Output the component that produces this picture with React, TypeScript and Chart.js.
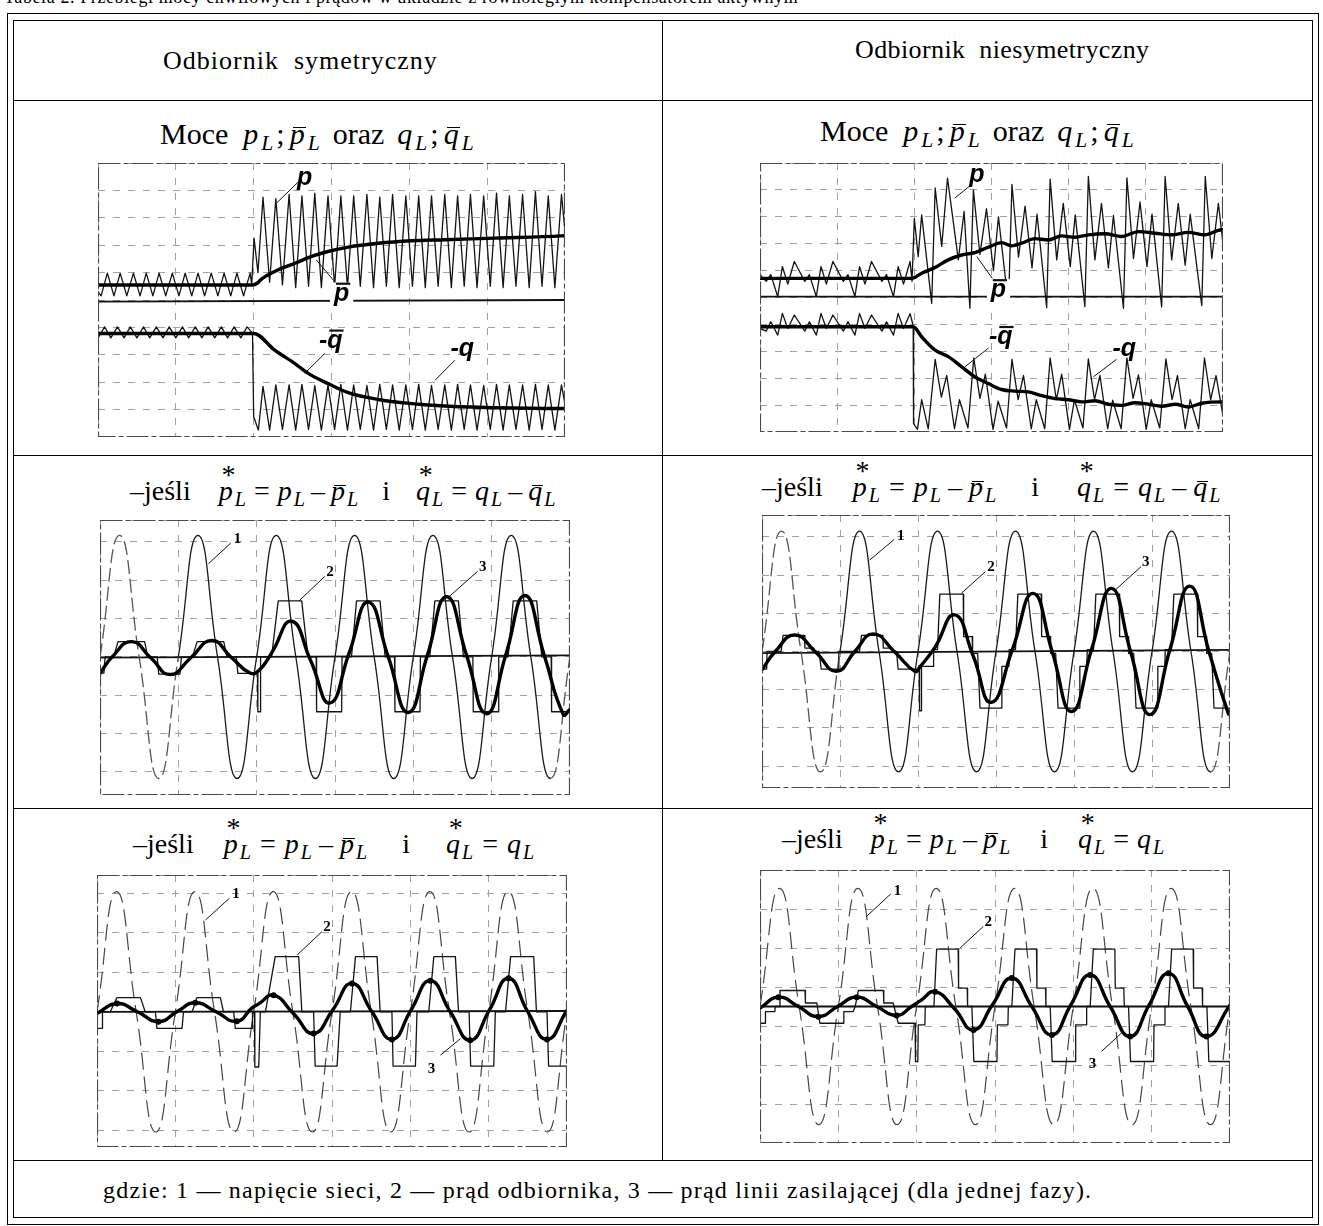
import React, { useEffect, useRef } from "react";
import { Chart, registerables } from "chart.js";

Chart.register(...registerables);

type Pt = [number, number];

// ---------------- shared axis values ----------------
const TIME_MIN_MS = 0;
const TIME_MAX_MS = 120;
const TIME_GRID_MS = 20;
const VOLT_STEP_MS = 5;

// ---------------- chart 1: symmetric load, powers ----------------
const P1_INST: Pt[] = [
  [0, 5.3], [0.8, 5.15], [2.4, 5.98], [4.1, 5.15], [5.7, 5.98], [7.4, 5.15], [9.1, 5.98], [10.8, 5.15],
  [12.4, 5.98], [14.1, 5.15], [15.7, 5.98], [17.4, 5.15], [19.1, 5.98], [20.8, 5.15], [22.4, 5.98], [24.1, 5.15],
  [25.7, 5.98], [27.4, 5.15], [29.1, 5.98], [30.8, 5.15], [32.4, 5.98], [34.1, 5.15], [35.7, 5.98], [37.4, 5.15],
  [39.1, 5.98], [39.5, 5.55], [40.1, 7.26], [41.1, 6.0], [42.4, 8.75], [44.1, 5.65], [45.7, 8.7], [47.4, 5.55],
  [49.1, 8.85], [50.8, 5.45], [52.4, 8.8], [54.1, 5.5], [55.7, 8.9], [57.4, 5.45], [59.1, 8.8], [60.8, 5.5],
  [62.4, 8.8], [64.1, 5.45], [65.7, 8.8], [67.4, 5.5], [69.1, 8.85], [70.8, 5.45], [72.4, 8.75], [74.1, 5.5],
  [75.7, 8.85], [77.4, 5.45], [79.1, 8.8], [80.8, 5.5], [82.4, 8.8], [84.1, 5.45], [85.7, 8.8], [87.4, 5.5],
  [89.1, 8.85], [90.8, 5.45], [92.4, 8.8], [94.1, 5.5], [95.7, 8.85], [97.4, 5.45], [99.1, 8.8], [100.8, 5.5],
  [102.4, 8.9], [104.1, 5.45], [105.7, 8.8], [107.4, 5.5], [109.1, 8.85], [110.8, 5.45], [112.4, 8.95], [114.1, 5.5],
  [115.7, 8.8], [117.4, 5.45], [119.1, 8.85], [120, 7.5],
];
const P1_MEAN: Pt[] = [
  [0, 5.55], [39.6, 5.55], [41.0, 5.62], [42.0, 5.76], [45.4, 6.04], [50.6, 6.34], [54.9, 6.59], [59.1, 6.77],
  [64.3, 6.93], [72, 7.07], [80.6, 7.16], [89.1, 7.2], [102, 7.26], [119.1, 7.34], [120, 7.35],
];
const Q1_INST: Pt[] = [
  [0, 3.62], [1.7, 4.02], [3.3, 3.62], [5.0, 4.02], [6.7, 3.62], [8.3, 4.02], [10.0, 3.62], [11.7, 4.02],
  [13.3, 3.62], [15.0, 4.02], [16.7, 3.62], [18.3, 4.02], [20.0, 3.62], [21.7, 4.02], [23.3, 3.62], [25.0, 4.02],
  [26.7, 3.62], [28.3, 4.02], [30.0, 3.62], [31.7, 4.02], [33.3, 3.62], [35.0, 4.02], [36.7, 3.62], [38.3, 4.02],
  [39.7, 3.8], [40.0, 0.75], [41.2, 0.25], [42.4, 1.85], [44.1, 0.25], [45.7, 1.9], [47.4, 0.28], [49.1, 1.9],
  [50.8, 0.25], [52.4, 1.92], [54.1, 0.28], [55.7, 1.88], [57.4, 0.25], [59.1, 1.9], [60.8, 0.28], [62.4, 1.92],
  [64.1, 0.25], [65.7, 1.9], [67.4, 0.28], [69.1, 1.88], [70.8, 0.25], [72.4, 1.92], [74.1, 0.28], [75.7, 1.9],
  [77.4, 0.25], [79.1, 1.9], [80.8, 0.28], [82.4, 1.92], [84.1, 0.25], [85.7, 1.88], [87.4, 0.28], [89.1, 1.9],
  [90.8, 0.25], [92.4, 1.92], [94.1, 0.28], [95.7, 1.9], [97.4, 0.25], [99.1, 1.88], [100.8, 0.28], [102.4, 1.92],
  [104.1, 0.25], [105.7, 1.9], [107.4, 0.28], [109.1, 1.9], [110.8, 0.25], [112.4, 1.92], [114.1, 0.28], [115.7, 1.9],
  [117.4, 0.25], [119.1, 1.9], [120, 1.2],
];
const Q1_MEAN: Pt[] = [
  [0, 3.78], [40.0, 3.78], [45.4, 3.17], [50.6, 2.68], [54.0, 2.32], [59.1, 1.95], [64.3, 1.62], [72, 1.37],
  [80.6, 1.22], [89.1, 1.13], [102, 1.07], [119.1, 1.04], [120, 1.04],
];
const AXIS_1: Pt[] = [[0, 4.94], [120, 5.0]];

// ---------------- chart 2: unbalanced load, powers ----------------
const P2_INST: Pt[] = [
  [0, 5.85], [1.6, 5.6], [2.8, 5.85], [4.6, 5.03], [5.8, 6.15], [7.2, 5.5], [8.9, 6.34], [11.6, 5.6], [12.8, 5.85],
  [14.6, 5.03], [15.8, 6.15], [17.2, 5.5], [18.9, 6.34], [21.6, 5.6], [22.8, 5.85], [24.6, 5.03], [25.8, 6.15],
  [27.2, 5.5], [28.9, 6.34], [31.6, 5.6], [32.8, 5.85], [34.6, 5.03], [35.8, 6.15], [37.2, 5.5], [38.9, 6.34],
  [39.4, 5.6], [40.0, 7.95], [41.0, 6.52], [41.9, 8.07], [44.5, 4.78], [45.4, 9.07], [47.1, 6.9], [48.6, 9.44],
  [51.4, 6.4], [52.9, 8.2], [54.4, 4.6], [55.3, 9.0], [57.0, 6.6], [58.7, 8.3], [60.5, 6.0], [61.8, 8.0],
  [64.4, 4.7], [65.3, 9.2], [67.0, 6.5], [68.7, 8.4], [70.5, 6.1], [71.8, 8.1], [74.3, 4.62], [75.2, 9.4],
  [76.9, 6.4], [78.6, 8.5], [80.4, 6.15], [81.7, 8.07], [84.2, 4.66], [85.1, 9.5], [86.8, 6.4], [88.5, 8.5],
  [90.3, 6.1], [91.6, 8.05], [94.2, 4.6], [95.1, 9.45], [96.8, 6.45], [98.5, 8.55], [100.3, 6.15], [101.6, 8.1],
  [104.1, 4.65], [105.0, 9.5], [106.7, 6.4], [108.4, 8.5], [110.2, 6.2], [111.5, 8.1], [114.5, 4.7], [115.4, 9.5],
  [117.1, 6.45], [118.8, 8.5], [120, 7.0],
];
const P2_MEAN: Pt[] = [
  [0, 5.71], [39.3, 5.71], [41.9, 5.9], [45.4, 6.12], [48.8, 6.4], [52.3, 6.58], [55.7, 6.67], [59.2, 6.87],
  [62.6, 7.04], [65.2, 6.92], [67.8, 7.02], [71.3, 7.19], [74.7, 7.14], [78.2, 7.29], [81.6, 7.24], [85.1, 7.33],
  [89.4, 7.37], [93.7, 7.27], [98.1, 7.45], [102.4, 7.39], [106.7, 7.33], [111, 7.42], [115.3, 7.33], [119.7, 7.52],
  [120, 7.52],
];
const Q2_INST: Pt[] = [
  [0, 3.85], [1.6, 3.75], [2.8, 4.1], [4.6, 3.6], [5.8, 4.41], [7.2, 3.85], [8.9, 4.35], [11.6, 3.75], [12.8, 4.1],
  [14.6, 3.6], [15.8, 4.41], [17.2, 3.85], [18.9, 4.35], [21.6, 3.75], [22.8, 4.1], [24.6, 3.6], [25.8, 4.41],
  [27.2, 3.85], [28.9, 4.35], [31.6, 3.75], [32.8, 4.1], [34.6, 3.6], [35.8, 4.41], [37.2, 3.85], [38.9, 4.4],
  [39.7, 3.95], [39.8, 0.31], [40.8, 0.1], [41.9, 1.2], [43.6, 0.12], [45.4, 2.7], [47.0, 1.3], [48.4, 2.1],
  [50.4, 0.12], [51.7, 1.2], [53.9, 0.15], [55.4, 2.75], [57.0, 1.25], [58.4, 2.15], [60.4, 0.1], [61.7, 1.15],
  [63.9, 0.15], [65.3, 2.7], [66.9, 1.2], [68.3, 2.1], [70.3, 0.12], [71.6, 1.2], [73.8, 0.12], [75.2, 2.75],
  [76.8, 1.2], [78.2, 2.15], [80.2, 0.1], [81.5, 1.2], [83.7, 0.15], [85.1, 2.72], [86.7, 1.2], [88.1, 2.1],
  [90.1, 0.12], [91.4, 1.18], [93.6, 0.12], [95.1, 2.75], [96.7, 1.25], [98.1, 2.12], [100.1, 0.1], [101.4, 1.2],
  [103.6, 0.15], [105.2, 2.72], [106.8, 1.2], [108.2, 2.1], [110.2, 0.12], [111.5, 1.2], [113.7, 0.12], [115.2, 2.75],
  [116.8, 1.2], [118.2, 2.1], [120, 0.6],
];
const Q2_MEAN: Pt[] = [
  [0, 3.91], [39.7, 3.91], [41.9, 3.54], [45.4, 3.04], [48.8, 2.8], [52.3, 2.42], [55.7, 2.05], [59.2, 1.8],
  [62.6, 1.58], [66.1, 1.52], [69.6, 1.49], [73, 1.35], [76.5, 1.24], [79.9, 1.2], [83.4, 1.12], [86.8, 1.16],
  [90.3, 1.03], [93.7, 0.99], [97.2, 1.09], [100.7, 1.03], [104.1, 0.96], [107.6, 1.03], [111, 0.93], [114.5, 1.07],
  [119.7, 1.12], [120, 1.12],
];
const AXIS_2: Pt[] = [[0, 5.03], [120, 5.03]];

// ---------------- chart 3: symmetric, p* = p - p̄, q* = q - q̄ ----------------
const V3_SAMPLES = [0, 3.17, 0, -3.17, 0, 3.17, 0, -3.17, 0, 3.17, 0, -3.17, 0, 3.17, 0, -3.17, 0, 3.17, 0, -3.17, 0, 3.17, 0, -3.17, 0];
const I3_LINE: Pt[] = [
  [0, -0.43], [3.1, 0], [8.1, 0.4], [13.0, -0.03], [17.9, -0.46], [23.2, -0.02], [28.5, 0.43], [33.4, 0],
  [38.3, -0.42], [40.5, -0.36], [43.8, 0.1], [48.9, 0.93], [53.8, -0.1], [58.7, -1.2], [63.6, 0.1], [68.5, 1.43],
  [73.6, 0], [78.7, -1.45], [83.6, 0.05], [88.5, 1.57], [93.6, 0.04], [98.7, -1.48], [103.6, 0.05], [108.5, 1.6],
  [113.4, 0.05], [118.3, -1.5], [120, -1.37],
];
const I3_LOAD: Pt[] = [
  [0, -0.42], [1.0, -0.42], [1.3, 0], [3.5, 0], [4.6, 0.4], [11.4, 0.4], [12.2, 0], [14.6, 0], [15.0, -0.45],
  [20.4, -0.45], [20.8, 0], [23.6, 0], [24.8, 0.4], [31.6, 0.4], [32.4, 0], [34.8, 0], [35.2, -0.43], [40.2, -0.43],
  [40.3, -1.43], [40.9, -1.43], [41.0, 0], [43.8, 0], [45.5, 1.46], [51.5, 1.46], [53.1, 0], [55.2, 0],
  [55.3, -1.43], [61.7, -1.43], [61.8, 0], [64.2, 0], [65.5, 1.46], [71.5, 1.46], [72.8, 0], [75.2, 0],
  [75.3, -1.43], [81.7, -1.43], [81.8, 0], [84.2, 0], [85.5, 1.46], [91.5, 1.46], [92.8, 0], [95.2, 0],
  [95.3, -1.43], [101.7, -1.43], [101.8, 0], [104.2, 0], [105.5, 1.46], [111.5, 1.46], [112.8, 0], [115.2, 0],
  [115.3, -1.43], [120, -1.43],
];
const AXIS_3: Pt[] = [[0, -0.02], [120, 0.04]];

// ---------------- chart 4: unbalanced, p* = p - p̄, q* = q - q̄ ----------------
const V4_SAMPLES = [0, 3.15, 0, -3.15, 0, 3.15, 0, -3.15, 0, 3.15, 0, -3.15, 0, 3.15, 0, -3.15, 0, 3.15, 0, -3.15, 0, 3.15, 0, -3.15, 0];
const I4_LINE: Pt[] = [
  [0, -0.48], [3.4, 0], [8.4, 0.43], [13.8, -0.02], [19.1, -0.52], [23.8, 0], [28.5, 0.46], [33.9, 0],
  [39.2, -0.52], [40.5, -0.4], [44.3, 0.1], [49.4, 0.96], [54.1, -0.1], [58.8, -1.33], [64.2, 0.05], [69.5, 1.52],
  [74.4, 0], [79.4, -1.57], [84.5, 0.05], [89.6, 1.65], [94.5, 0], [99.5, -1.65], [104.6, 0.05], [109.7, 1.71],
  [114.6, 0], [119.6, -1.63], [120, -1.6],
];
const I4_LOAD: Pt[] = [
  [0, -0.46], [1.2, -0.46], [1.3, 0], [4.9, 0], [5.4, 0.42], [10.9, 0.42], [11.0, 0.09], [13.2, 0.09], [13.3, 0],
  [14.6, 0], [15.2, -0.46], [19.6, -0.46], [19.7, 0], [25.0, 0], [25.5, 0.42], [31.0, 0.42], [31.1, 0.09],
  [33.3, 0.09], [33.4, 0], [34.5, 0], [34.9, -0.46], [40.3, -0.46], [40.4, -1.55], [40.8, -1.55], [40.9, -0.39],
  [43.9, -0.39], [44.0, 0.05], [45.0, 0.05], [45.6, 1.5], [51.6, 1.5], [51.7, 0.39], [53.9, 0.39], [54.0, -0.05],
  [55.3, -0.05], [55.9, -1.48], [61.4, -1.48], [61.5, -0.39], [63.3, -0.39], [63.4, 0.05], [65.0, 0.05], [65.6, 1.5],
  [71.6, 1.5], [71.7, 0.39], [73.9, 0.39], [74.0, -0.05], [75.3, -0.05], [75.9, -1.48], [81.4, -1.48], [81.5, -0.39],
  [83.3, -0.39], [83.4, 0.05], [85.0, 0.05], [85.6, 1.5], [91.6, 1.5], [91.7, 0.39], [93.9, 0.39], [94.0, -0.05],
  [95.3, -0.05], [95.9, -1.48], [101.4, -1.48], [101.5, -0.39], [103.3, -0.39], [103.4, 0.05], [105.0, 0.05],
  [105.6, 1.5], [111.6, 1.5], [111.7, 0.39], [113.9, 0.39], [114.0, -0.05], [115.3, -0.05], [115.9, -1.48],
  [120, -1.48],
];
const AXIS_4: Pt[] = [[0, -0.04], [120, 0.04]];

// ---------------- chart 5: symmetric, p* = p - p̄, q* = q ----------------
const V5_SAMPLES = [0, 3.05, 0, -3.05, 0, 3.05, 0, -3.05, 0, 3.05, 0, -3.05, 0, 3.05, 0, -3.05, 0, 3.05, 0, -3.05, 0, 3.05, 0, -3.05, 0];
const I5_LINE: Pt[] = [
  [0, -0.04], [5.1, 0.21], [10.3, 0], [15.7, -0.25], [20.4, 0], [25.1, 0.23], [30.4, 0], [35.7, -0.24],
  [39.6, 0.1], [41.3, 0.2], [45.1, 0.42], [50.2, -0.05], [55.3, -0.55], [60.2, 0.05], [65.1, 0.72], [70.2, 0],
  [75.3, -0.7], [80.2, 0.05], [85.1, 0.79], [90.2, 0], [95.3, -0.72], [100.2, 0.05], [105.1, 0.85], [110.0, 0],
  [114.9, -0.7], [120, 0.04],
];
const I5_LOAD: Pt[] = [
  [0, -0.42], [1.3, -0.42], [1.4, 0], [3.4, 0], [5.1, 0.36], [11.1, 0.36], [12.3, 0], [14.9, 0], [15.3, -0.42],
  [21.7, -0.42], [22.1, 0], [24.3, 0], [25.5, 0.36], [31.5, 0.36], [32.3, 0], [34.9, 0], [35.3, -0.42],
  [39.6, -0.42], [39.7, 0], [40.2, 0], [40.3, -1.4], [41.3, -1.4], [41.7, 0], [43.0, 0], [45.5, 1.4], [51.5, 1.4],
  [52.3, 0], [55.3, 0], [55.7, -1.38], [61.3, -1.38], [62.1, 0], [64.7, 0], [66.0, 1.4], [71.5, 1.4], [72.3, 0],
  [75.3, 0], [75.6, -1.38], [81.3, -1.38], [81.7, 0], [84.7, 0], [86.0, 1.4], [91.5, 1.4], [92.3, 0], [95.0, 0],
  [95.4, -1.38], [101.3, -1.38], [101.7, 0], [104.3, 0], [105.6, 1.4], [111.5, 1.4], [112.2, 0], [114.9, 0],
  [115.3, -1.38], [120, -1.38],
];
const AXIS_5: Pt[] = [[0, 0], [120, 0.02]];

// ---------------- chart 6: unbalanced, p* = p - p̄, q* = q ----------------
const V6_SAMPLES = [0, 3.03, 0, -3.03, 0, 3.03, 0, -3.03, 0, 3.03, 0, -3.03, 0, 3.03, 0, -3.03, 0, 3.03, 0, -3.03, 0, 3.03, 0, -3.03, 0];
const I6_LINE: Pt[] = [
  [0, -0.04], [4.7, 0.24], [9.8, 0], [14.9, -0.26], [19.8, 0], [24.7, 0.24], [29.8, 0], [34.9, -0.23],
  [38.7, 0.0], [41.0, 0.15], [44.7, 0.38], [49.6, -0.05], [54.5, -0.6], [59.4, 0.05], [64.3, 0.73], [69.4, 0],
  [74.5, -0.73], [79.4, 0.05], [84.3, 0.81], [89.4, 0], [94.5, -0.77], [99.4, 0.05], [104.3, 0.85], [109.2, 0],
  [114.0, -0.77], [120, 0.04],
];
const I6_LOAD: Pt[] = [
  [0, -0.43], [1.3, -0.43], [1.4, -0.13], [3.8, -0.13], [3.9, 0], [5.0, 0], [5.1, 0.41], [11.5, 0.41],
  [11.6, 0.09], [14.5, 0.09], [15.3, -0.43], [21.3, -0.43], [21.4, -0.13], [23.8, -0.13], [24.3, 0], [25.1, 0.41],
  [31.5, 0.41], [31.6, 0.09], [34.0, 0.09], [35.3, -0.43], [39.6, -0.43], [39.7, -1.41], [40.3, -1.41],
  [40.4, -0.47], [42.1, -0.47], [42.2, 0], [44.4, 0], [45.1, 1.47], [50.6, 1.47], [50.7, 0.47], [52.9, 0.47],
  [53.0, 0], [54.1, 0], [54.6, -1.41], [60.5, -1.41], [60.6, -0.47], [63.3, -0.47], [63.4, 0], [64.3, 0],
  [65.1, 1.47], [70.6, 1.47], [70.7, 0.47], [72.9, 0.47], [73.0, 0], [74.1, 0], [74.6, -1.41], [80.5, -1.41],
  [80.6, -0.47], [83.3, -0.47], [83.4, 0], [84.3, 0], [85.1, 1.47], [90.6, 1.47], [90.7, 0.47], [92.9, 0.47],
  [93.0, 0], [94.1, 0], [94.6, -1.41], [100.5, -1.41], [100.6, -0.47], [103.3, -0.47], [103.4, 0], [104.3, 0],
  [105.1, 1.47], [110.6, 1.47], [110.7, 0.47], [112.9, 0.47], [113.0, 0], [114.1, 0], [114.6, -1.41], [120, -1.41],
];
const AXIS_6: Pt[] = [[0, 0], [120, 0]];

// ---------------- curve labels (data coordinates) ----------------
type Note = { t: number; v: number; pre?: string; text: string; bar?: boolean; knock?: boolean; from: Pt; to: Pt };
const NOTES_1: Note[] = [
  { t: 53.1, v: 9.33, text: "p", from: [51.4, 9.3], to: [45.9, 8.54] },
  { t: 62.6, v: 5.12, text: "p", bar: true, knock: true, from: [60.8, 5.67], to: [56.1, 6.46] },
  { t: 59.8, v: 3.41, pre: "-", text: "q", bar: true, from: [58.3, 3.05], to: [53.1, 2.32] },
  { t: 93.6, v: 3.11, pre: "-", text: "q", from: [91.7, 2.8], to: [86.6, 2.07] },
];
const NOTES_2: Note[] = [
  { t: 56.2, v: 9.44, text: "p", from: [54.4, 9.15], to: [50.5, 8.7] },
  { t: 61.8, v: 5.16, text: "p", bar: true, knock: true, from: [60.2, 5.71], to: [56.2, 6.52] },
  { t: 62.4, v: 3.42, pre: "-", text: "q", bar: true, from: [59.2, 3.12], to: [53.1, 2.42] },
  { t: 94.4, v: 2.98, pre: "-", text: "q", from: [92.4, 2.7], to: [86.4, 2.05] },
];
const NOTES_3: Note[] = [
  { t: 35.1, v: 3.09, text: "1", from: [33.4, 2.97], to: [27.7, 2.43] },
  { t: 58.7, v: 2.23, text: "2", from: [57.4, 2.1], to: [50.8, 1.46] },
  { t: 97.7, v: 2.37, text: "3", from: [96.4, 2.23], to: [88.9, 1.55] },
];
const NOTES_4: Note[] = [
  { t: 35.6, v: 3.04, text: "1", from: [33.9, 2.93], to: [27.6, 2.39] },
  { t: 58.7, v: 2.23, text: "2", from: [57.3, 2.09], to: [51.1, 1.52] },
  { t: 98.4, v: 2.37, text: "3", from: [97.2, 2.22], to: [90.5, 1.6] },
];
const NOTES_5: Note[] = [
  { t: 35.5, v: 3.01, text: "1", from: [33.8, 2.88], to: [27.7, 2.33] },
  { t: 58.7, v: 2.18, text: "2", from: [57.4, 2.03], to: [51.1, 1.44] },
  { t: 85.4, v: -1.43, text: "3", from: [87.7, -1.1], to: [92.8, -0.68] },
];
const NOTES_6: Note[] = [
  { t: 35.1, v: 3.0, text: "1", from: [33.4, 2.89], to: [27.2, 2.31] },
  { t: 58.3, v: 2.2, text: "2", from: [57.0, 2.05], to: [51.1, 1.5] },
  { t: 84.9, v: -1.45, text: "3", from: [87.2, -1.15], to: [92.3, -0.68] },
];

// ---------------- rendering ----------------
const SERIF = '"Liberation Serif", "Times New Roman", serif';

type Kind = "thin" | "mean" | "current" | "axis" | "volt" | "voltDash";
type Series = { pts?: Pt[]; samples?: number[]; kind: Kind; dots?: boolean; dashEdges?: boolean };

function buildDataset(s: Series) {
  const data = s.pts
    ? s.pts.map(([x, y]) => ({ x, y }))
    : (s.samples || []).map((y, i) => ({ x: TIME_MIN_MS + i * VOLT_STEP_MS, y }));
  const base: any = { data, pointRadius: 0, fill: false, borderJoinStyle: "round", borderCapStyle: "round" };
  if (s.kind === "thin") Object.assign(base, { borderColor: "#141414", borderWidth: 1.3, tension: 0 });
  if (s.kind === "mean") Object.assign(base, { borderColor: "#000", borderWidth: 3.4, cubicInterpolationMode: "monotone" });
  if (s.kind === "current") Object.assign(base, { borderColor: "#000", borderWidth: 3.4, tension: 0.5 });
  if (s.kind === "axis") Object.assign(base, { borderColor: "#111", borderWidth: 1.8, tension: 0 });
  if (s.kind === "volt") Object.assign(base, { borderColor: "#1a1a1a", borderWidth: 1.3, tension: 0.5 });
  if (s.kind === "voltDash") Object.assign(base, { borderColor: "#444", borderWidth: 1.2, tension: 0.5, borderDash: [16, 8] });
  if (s.dashEdges) {
    base.segment = {
      borderDash: (c: any) => (c.p1.parsed.x <= TIME_GRID_MS || c.p0.parsed.x >= 115 ? [13, 6] : undefined),
      borderColor: (c: any) => (c.p1.parsed.x <= TIME_GRID_MS || c.p0.parsed.x >= 115 ? "#555" : undefined),
    };
  }
  if (s.dots) {
    const ys = data.map((d) => d.y);
    base.pointRadius = ys.map((y, i) =>
      i > 0 && i < ys.length - 1 && ((y > ys[i - 1] && y > ys[i + 1]) || (y < ys[i - 1] && y < ys[i + 1])) ? 3 : 0
    );
    base.pointBackgroundColor = "#000";
    base.pointBorderWidth = 0;
  }
  return base;
}

type ScopeProps = {
  left: number; top: number; width: number; height: number;
  yMin: number; yMax: number; series: Series[]; notes: Note[];
  font: string; baseShift: number; barRise: number;
};

function Scope(p: ScopeProps) {
  const ref = useRef<HTMLCanvasElement | null>(null);
  useEffect(() => {
    const canvas = ref.current;
    if (!canvas) return;
    const decor = {
      id: "scopeDecor",
      afterDatasetsDraw(chart: any) {
        const { ctx, chartArea: a, scales } = chart;
        const xs = scales.x;
        const ys = scales.y;
        ctx.save();
        ctx.strokeStyle = "#4a4a4a";
        ctx.lineWidth = 1.2;
        ctx.setLineDash([22, 3, 5, 3]);
        ctx.strokeRect(a.left + 0.5, a.top + 0.5, a.right - a.left - 1, a.bottom - a.top - 1);
        ctx.setLineDash([]);
        for (const n of p.notes) {
          ctx.font = p.font;
          const full = (n.pre || "") + n.text;
          const w = ctx.measureText(full).width;
          const cx = xs.getPixelForValue(n.t);
          const cy = ys.getPixelForValue(n.v);
          const x0 = cx - w / 2;
          const yb = cy + p.baseShift;
          if (n.knock) {
            ctx.fillStyle = "#fff";
            ctx.fillRect(x0 - 4, cy - 14, w + 8, 28);
          }
          ctx.strokeStyle = "#111";
          ctx.lineWidth = 1;
          ctx.beginPath();
          ctx.moveTo(xs.getPixelForValue(n.from[0]), ys.getPixelForValue(n.from[1]));
          ctx.lineTo(xs.getPixelForValue(n.to[0]), ys.getPixelForValue(n.to[1]));
          ctx.stroke();
          ctx.fillStyle = "#000";
          ctx.textBaseline = "alphabetic";
          ctx.textAlign = "left";
          ctx.fillText(full, x0, yb);
          if (n.bar) {
            const pw = n.pre ? ctx.measureText(n.pre).width : 0;
            const mw = ctx.measureText(n.text).width;
            ctx.lineWidth = 2.2;
            ctx.beginPath();
            ctx.moveTo(x0 + pw + 2, yb - p.barRise);
            ctx.lineTo(x0 + pw + mw + 1, yb - p.barRise);
            ctx.stroke();
          }
        }
        ctx.restore();
      },
    };
    const gridCommon = { color: "#a0a0a0", lineWidth: 1, drawTicks: false };
    const chart = new Chart(canvas, {
      type: "line",
      data: { datasets: p.series.map(buildDataset) },
      options: {
        animation: false,
        responsive: false,
        maintainAspectRatio: false,
        devicePixelRatio: 1,
        events: [],
        layout: { padding: 0 },
        plugins: { legend: { display: false }, tooltip: { enabled: false } },
        scales: {
          x: {
            type: "linear", min: TIME_MIN_MS, max: TIME_MAX_MS,
            ticks: { display: false, stepSize: TIME_GRID_MS },
            grid: gridCommon, border: { display: false, dash: [7, 8] },
          },
          y: {
            type: "linear", min: p.yMin, max: p.yMax,
            ticks: { display: false, stepSize: 1 },
            grid: gridCommon, border: { display: false, dash: [7, 8] },
          },
        },
      } as any,
      plugins: [decor as any],
    });
    return () => chart.destroy();
  }, []);
  return (
    <canvas
      ref={ref}
      width={p.width}
      height={p.height}
      style={{ position: "absolute", left: p.left, top: p.top, width: p.width, height: p.height, display: "block" }}
    />
  );
}

// ---------------- math text helpers ----------------
function Sym({ ch, bar, star, gap = 2 }: { ch: string; bar?: boolean; star?: boolean; gap?: number }) {
  return (
    <span style={{ whiteSpace: "nowrap" }}>
      <span style={{ position: "relative", fontStyle: "italic", display: "inline-block" }}>
        {ch}
        {bar ? (
          <span style={{ position: "absolute", left: "0.12em", width: "0.42em", top: "0.27em", borderTop: "0.05em solid #000" }} />
        ) : null}
        {star ? (
          <span style={{ position: "absolute", left: "0.1em", top: "-0.56em", fontStyle: "normal" }}>*</span>
        ) : null}
      </span>
      <span style={{ fontStyle: "italic", fontSize: "0.72em", position: "relative", top: "0.3em", marginLeft: gap }}>L</span>
    </span>
  );
}

const Gap = ({ w }: { w: number }) => <span style={{ display: "inline-block", width: w }} />;

function PowersTitle({ left, top }: { left: number; top: number }) {
  return (
    <div style={{ position: "absolute", left, top, fontFamily: SERIF, fontSize: 30, lineHeight: 1, whiteSpace: "nowrap" }}>
      Moce<Gap w={15} />
      <Sym ch="p" gap={3} /><Gap w={3} />;<Gap w={5} /><Sym ch="p" bar gap={3} />
      <Gap w={13} />oraz<Gap w={13} />
      <Sym ch="q" gap={3} /><Gap w={3} />;<Gap w={5} /><Sym ch="q" bar gap={3} />
    </div>
  );
}

type CondProps = { left: number; top: number; meanQ: boolean; gj: number; ge: number; gm: number; gi1: number; gi2: number };
function CondTitle({ left, top, meanQ, gj, ge, gm, gi1, gi2 }: CondProps) {
  return (
    <div style={{ position: "absolute", left, top, fontFamily: SERIF, fontSize: 28, lineHeight: 1, whiteSpace: "nowrap" }}>
      –jeśli<Gap w={gj} />
      <Sym ch="p" star /><Gap w={ge} />=<Gap w={ge} /><Sym ch="p" /><Gap w={gm} />–<Gap w={gm} /><Sym ch="p" bar />
      <Gap w={gi1} />i<Gap w={gi2} />
      <Sym ch="q" star /><Gap w={ge} />=<Gap w={ge} /><Sym ch="q" />
      {meanQ ? (
        <>
          <Gap w={gm} />–<Gap w={gm} /><Sym ch="q" bar />
        </>
      ) : null}
    </div>
  );
}

const line = (s: React.CSSProperties): React.CSSProperties => ({ position: "absolute", boxSizing: "border-box", ...s });

export default function App() {
  const powerFont = 'italic bold 25px "Liberation Sans", Arial, sans-serif';
  const numFont = 'bold 15px "Liberation Serif", serif';
  return (
    <div style={{ position: "absolute", left: 0, top: 0, width: 1323, height: 1226, background: "#fff", overflow: "hidden", color: "#000" }}>
      <div style={{ position: "absolute", left: 4, top: -12, fontFamily: SERIF, fontSize: 18, whiteSpace: "nowrap", lineHeight: 1, letterSpacing: 0.6 }}>
        Tabela 2. Przebiegi mocy chwilowych i prądów w układzie z równoległym kompensatorem aktywnym
      </div>
      {/* table frame */}
      <div style={line({ left: 7, top: 13, width: 1312, height: 1212, border: "1.5px solid #000" })} />
      <div style={line({ left: 13, top: 20, width: 1300, height: 1198, border: "1.5px solid #000" })} />
      <div style={line({ left: 13, top: 100, width: 1300, height: 0, borderTop: "1.5px solid #000" })} />
      <div style={line({ left: 13, top: 455, width: 1300, height: 0, borderTop: "1.5px solid #000" })} />
      <div style={line({ left: 13, top: 808, width: 1300, height: 0, borderTop: "1.5px solid #000" })} />
      <div style={line({ left: 13, top: 1160, width: 1300, height: 0, borderTop: "1.5px solid #000" })} />
      <div style={line({ left: 662, top: 20, width: 0, height: 1140, borderLeft: "1.5px solid #000" })} />

      {/* headers */}
      <div style={{ position: "absolute", left: 163, top: 48, fontFamily: SERIF, fontSize: 26, lineHeight: 1, letterSpacing: 1, whiteSpace: "nowrap" }}>
        Odbiornik&nbsp; symetryczny
      </div>
      <div style={{ position: "absolute", left: 855, top: 37, fontFamily: SERIF, fontSize: 26, lineHeight: 1, letterSpacing: 0.4, whiteSpace: "nowrap" }}>
        Odbiornik&nbsp; niesymetryczny
      </div>

      <PowersTitle left={160} top={119} />
      <PowersTitle left={820} top={116} />
      <CondTitle left={130} top={477} meanQ gj={28} ge={8} gm={6} gi1={24} gi2={26} />
      <CondTitle left={762} top={473} meanQ gj={30} ge={9} gm={7} gi1={35} gi2={38} />
      <CondTitle left={133} top={830} meanQ={false} gj={30} ge={9} gm={7} gi1={35} gi2={36} />
      <CondTitle left={782} top={825} meanQ={false} gj={28} ge={8} gm={6} gi1={30} gi2={30} />

      <Scope
        left={98} top={163} width={467} height={274} yMin={0} yMax={10}
        series={[
          { pts: P1_MEAN, kind: "mean" }, { pts: Q1_MEAN, kind: "mean" },
          { pts: P1_INST, kind: "thin" }, { pts: Q1_INST, kind: "thin" }, { pts: AXIS_1, kind: "axis" },
        ]}
        notes={NOTES_1} font={powerFont} baseShift={4} barRise={17}
      />
      <Scope
        left={760} top={163} width={463} height={269} yMin={0} yMax={10}
        series={[
          { pts: P2_MEAN, kind: "mean" }, { pts: Q2_MEAN, kind: "mean" },
          { pts: P2_INST, kind: "thin" }, { pts: Q2_INST, kind: "thin" }, { pts: AXIS_2, kind: "axis" },
        ]}
        notes={NOTES_2} font={powerFont} baseShift={4} barRise={17}
      />
      <Scope
        left={100} top={520} width={470} height={275} yMin={-3.6} yMax={3.57}
        series={[
          { pts: I3_LINE, kind: "current" }, { pts: I3_LOAD, kind: "thin" },
          { samples: V3_SAMPLES, kind: "volt", dashEdges: true }, { pts: AXIS_3, kind: "axis" },
        ]}
        notes={NOTES_3} font={numFont} baseShift={5} barRise={0}
      />
      <Scope
        left={762} top={515} width={468} height={273} yMin={-3.57} yMax={3.57}
        series={[
          { pts: I4_LINE, kind: "current" }, { pts: I4_LOAD, kind: "thin" },
          { samples: V4_SAMPLES, kind: "volt", dashEdges: true }, { pts: AXIS_4, kind: "axis" },
        ]}
        notes={NOTES_4} font={numFont} baseShift={5} barRise={0}
      />
      <Scope
        left={97} top={875} width={470} height={272} yMin={-3.43} yMax={3.47}
        series={[
          { pts: I5_LINE, kind: "current", dots: true }, { pts: I5_LOAD, kind: "thin" },
          { samples: V5_SAMPLES, kind: "voltDash" }, { pts: AXIS_5, kind: "axis" },
        ]}
        notes={NOTES_5} font={numFont} baseShift={5} barRise={0}
      />
      <Scope
        left={760} top={870} width={470} height={273} yMin={-3.5} yMax={3.5}
        series={[
          { pts: I6_LINE, kind: "current", dots: true }, { pts: I6_LOAD, kind: "thin" },
          { samples: V6_SAMPLES, kind: "voltDash" }, { pts: AXIS_6, kind: "axis" },
        ]}
        notes={NOTES_6} font={numFont} baseShift={5} barRise={0}
      />

      <div style={{ position: "absolute", left: 103, top: 1178, fontFamily: SERIF, fontSize: 24, lineHeight: 1, whiteSpace: "nowrap", letterSpacing: 1.2 }}>
        gdzie: 1 — napięcie sieci, 2 — prąd odbiornika, 3 — prąd linii zasilającej (dla jednej fazy).
      </div>
    </div>
  );
}
